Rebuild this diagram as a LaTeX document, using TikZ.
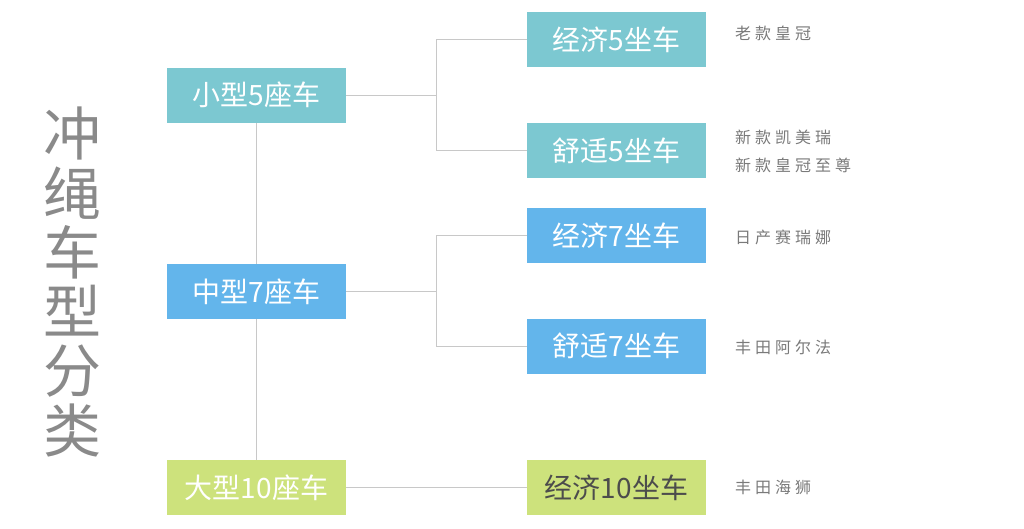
\documentclass[tikz,border=0pt]{standalone}
\usepackage{fontspec}
\newfontfamily\cjk{Noto Sans CJK SC}
\newfontfamily\cjkls[LetterSpace=25]{Noto Sans CJK SC}
\definecolor{tealbox}{HTML}{7CC8D1}
\definecolor{bluebox}{HTML}{63B5EB}
\definecolor{greenbox}{HTML}{CDE27C}
\definecolor{linegray}{HTML}{C8C8C8}
\definecolor{labgray}{HTML}{7A7A7A}
\definecolor{titlegray}{HTML}{8A8A8A}
\pgfdeclarelayer{bg}
\pgfsetlayers{bg,main}
\begin{document}
\begin{tikzpicture}[x=1pt,y=-1pt,
  box/.style={minimum width=179pt,minimum height=55pt,inner sep=0pt,outer sep=0pt,
     font=\cjk\fontsize{28}{28}\selectfont,text=white},
  lab/.style={anchor=west,inner sep=0pt,text=labgray,font=\cjkls\fontsize{16}{16}\selectfont},
  conn/.style={draw=linegray,line width=1pt}]
\begin{pgfonlayer}{bg}
\useasboundingbox (0,0) rectangle (1024,528);
\fill[white] (0,0) rectangle (1024,528);
\end{pgfonlayer}
% title
\node[inner sep=0pt,text=titlegray,font=\cjk\fontsize{58}{59.3}\selectfont,align=center] (title) at (72,282)
  {冲\\绳\\车\\型\\分\\类};
% level 1
\node[box,fill=tealbox] (s5) at (256.5,95) {小型5座车};
\node[box,fill=bluebox] (m7) at (256.5,291.5) {中型7座车};
\node[box,fill=greenbox] (l10) at (256.5,487.5) {大型10座车};
% level 2
\node[box,fill=tealbox] (e5) at (616.5,39.5) {经济5坐车};
\node[box,fill=tealbox] (c5) at (616.5,150.5) {舒适5坐车};
\node[box,fill=bluebox] (e7) at (616.5,235.5) {经济7坐车};
\node[box,fill=bluebox] (c7) at (616.5,346) {舒适7坐车};
\node[box,fill=greenbox,text=black!70] (e10) at (616.5,487.5) {经济10坐车};
% labels
\node[lab] (t1) at (735,33) {老款皇冠};
\node[lab] (t2) at (735,137) {新款凯美瑞};
\node[lab] (t3) at (735,165) {新款皇冠至尊};
\node[lab] (t4) at (735,237) {日产赛瑞娜};
\node[lab] (t5) at (735,347) {丰田阿尔法};
\node[lab] (t6) at (735,487) {丰田海狮};
% connectors
\coordinate (j1) at (436,95);
\coordinate (j2) at (436,291.5);
\begin{pgfonlayer}{bg}
\draw[conn] (s5.south) -- (l10.north);
\draw[conn] (s5.east) -- (j1);
\draw[conn] (j1) |- (e5.west);
\draw[conn] (j1) |- (c5.west);
\draw[conn] (m7.east) -- (j2);
\draw[conn] (j2) |- (e7.west);
\draw[conn] (j2) |- (c7.west);
\draw[conn] (l10.east) -- (e10.west);
\end{pgfonlayer}
\end{tikzpicture}
\end{document}
